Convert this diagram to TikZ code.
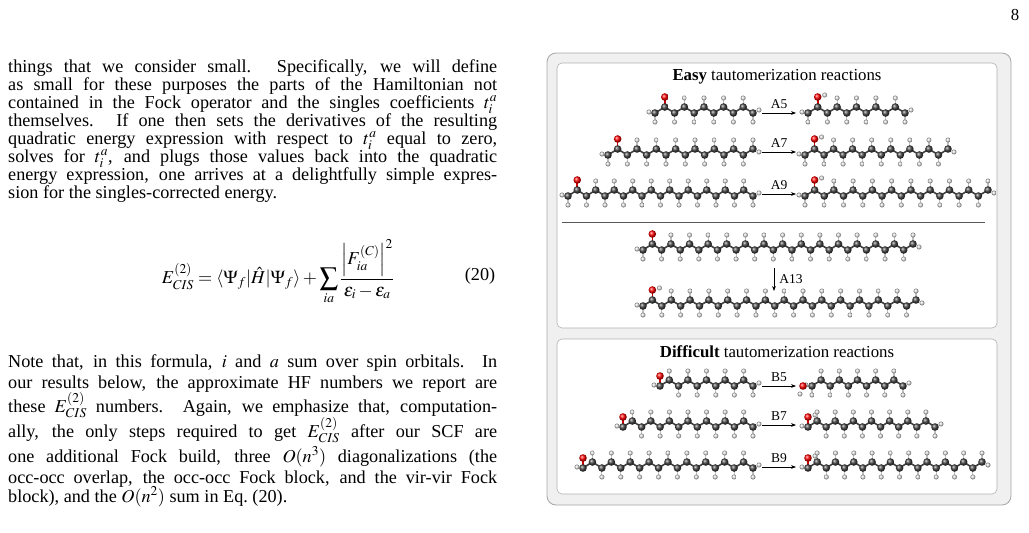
\documentclass[tikz,border=0pt]{standalone}
\usepackage{mathptmx}
\usepackage{fontspec}
\setmainfont{Liberation Serif}
\usetikzlibrary{arrows.meta}
\tikzset{
  bond/.style={line width=1.6pt, draw=gray!50!black},
  txt/.style={anchor=base west, inner sep=0pt, font=\fontsize{18.2}{20}\selectfont},
  ttl/.style={inner sep=0pt, font=\fontsize{16.8}{18}\selectfont},
  lab/.style={inner sep=0pt, font=\fontsize{13.5}{15}\selectfont},
  rxn/.style={-{Stealth[length=5pt]}, line width=0.7pt},
}
\newcommand\tl[2]{\node[txt] at (8,#1) {\hbox to 489pt{#2}};}
\newcommand\tlast[2]{\node[txt] at (8,#1) {#2};}
% #1 xs #2 xe #3 y #4 O index (-1 none) #5 enol flag
\newcommand\mol[5]{%
  \pgfmathtruncatemacro\nC{round((#2-#1)/9.4)}%
  \pgfmathsetmacro\dx{(#2-#1)/\nC}%
  \pgfmathtruncatemacro\nB{\nC-1}%
  \foreach \i in {0,...,\nB}{%
    \pgfmathsetmacro\ax{#1+\i*\dx}\pgfmathsetmacro\ay{#3+ifthenelse(mod(\i,2)==0,3,-3)}%
    \pgfmathsetmacro\bx{#1+(\i+1)*\dx}\pgfmathsetmacro\by{#3+ifthenelse(mod(\i,2)==0,-3,3)}%
    \draw[bond] (\ax,\ay) -- (\bx,\by);}%
  \foreach \i in {0,...,\nC}{%
    \pgfmathsetmacro\ax{#1+\i*\dx}%
    \pgfmathtruncatemacro\ev{mod(\i,2)==0}%
    \pgfmathsetmacro\ay{#3+ifthenelse(\ev==1,3,-3)}%
    \pgfmathsetmacro\hy{ifthenelse(\ev==1,\ay+9,\ay-9)}%
    \ifnum\i=#4\relax
      \draw[line width=1.6pt, red!80!black] (\ax,\ay) -- (\ax,\ay-10);
      \shade[ball color=red] (\ax,\ay-10) circle (3.8pt);
      \ifnum#5=1 \shade[ball color=gray!25] (\ax+7,\ay-12) circle (2.5pt);\fi
    \else
      \draw[line width=1.2pt, gray!50] (\ax,\ay) -- (\ax,\hy);
      \shade[ball color=gray!25] (\ax,\hy) circle (2.5pt);
    \fi
    \shade[ball color=gray!55!black] (\ax,\ay) circle (3.8pt);}%
  \shade[ball color=gray!25] (#1-6,#3+2) circle (2.5pt);
  \pgfmathsetmacro\ex{#2+6}%
  \shade[ball color=gray!25] (\ex,#3) circle (2.5pt);
}
\begin{document}
\begin{tikzpicture}[x=1pt,y=-1pt]
\useasboundingbox (0,0) rectangle (1029,533);
\node[ttl] (pg) at (1015,15) {8};
% left column
\tl{72}{things that we consider small. Specifically, we will define}
\tl{90}{as small for these purposes the parts of the Hamiltonian not}
\tl{108}{contained in the Fock operator and the singles coefficients $t_i^a$}
\tl{126}{themselves. If one then sets the derivatives of the resulting}
\tl{144}{quadratic energy expression with respect to $t_i^a$ equal to zero,}
\tl{162}{solves for $t_i^a$, and plugs those values back into the quadratic}
\tl{180}{energy expression, one arrives at a delightfully simple expres-}
\tlast{198}{sion for the singles-corrected energy.}
\node[inner sep=0pt, font=\fontsize{18.2}{20}\selectfont] (eq) at (278,272)
  {$\displaystyle E^{(2)}_{CIS}=\langle\Psi_f|\hat H|\Psi_f\rangle+\sum_{ia}\frac{\left|F^{(C)}_{ia}\right|^2}{\varepsilon_i-\varepsilon_a}$};
\node[inner sep=0pt, font=\fontsize{18.2}{20}\selectfont] (eqn) at (480,276) {(20)};
\tl{367}{Note that, in this formula, $i$ and $a$ sum over spin orbitals. In}
\tl{388}{our results below, the approximate HF numbers we report are}
\tl{412}{these $E^{(2)}_{CIS}$ numbers. Again, we emphasize that, computation-}
\tl{437}{ally, the only steps required to get $E^{(2)}_{CIS}$ after our SCF are}
\tl{462}{one additional Fock build, three $O(n^3)$ diagonalizations (the}
\tl{483}{occ-occ overlap, the occ-occ Fock block, and the vir-vir Fock}
\tlast{502}{block), and the $O(n^2)$ sum in Eq.~(20).}
% figure frame
\draw[gray!70, fill=gray!12, line width=0.8pt, rounded corners=9pt] (547,53) rectangle (1011,505);
\draw[gray!60, fill=white, line width=0.6pt, rounded corners=5pt] (557,63) rectangle (997,328);
\draw[gray!60, fill=white, line width=0.6pt, rounded corners=5pt] (557,339) rectangle (997,494);
\node[ttl] (t1) at (777,77) {\textbf{Easy} tautomerization reactions};
\node[ttl] (t2) at (777,352) {\textbf{Difficult} tautomerization reactions};
\draw[gray!70!black, line width=0.6pt] (562,222) -- (985,222);
% molecules easy
\mol{655}{753}{110}{1}{0} \mol{808}{905}{110}{1}{1}
\mol{608}{753}{152}{1}{0} \mol{805}{948}{152}{1}{1}
\mol{568}{753}{193}{1}{0} \mol{805}{988}{193}{1}{1}
\mol{643}{913}{247}{1}{0} \mol{643}{916}{303}{1}{1}
% difficult
\mol{660}{753}{383}{0}{0} \mol{812}{903}{383}{-1}{0}
\shade[ball color=red] (803,386) circle (3.8pt);
\shade[ball color=gray!25] (800,394) circle (2.5pt);
\mol{623}{753}{424}{0}{0} \mol{808}{935}{424}{0}{1}
\mol{583}{753}{465}{0}{0} \mol{808}{982}{465}{0}{1}
% arrows
\coordinate (a5s) at (762,113); \coordinate (a5e) at (796,113);
\draw[rxn] (a5s) -- node[lab, above=4pt] (l5) {A5} (a5e);
\coordinate (a7s) at (762,152); \coordinate (a7e) at (796,152);
\draw[rxn] (a7s) -- node[lab, above=4pt] (l7) {A7} (a7e);
\coordinate (a9s) at (762,194); \coordinate (a9e) at (796,194);
\draw[rxn] (a9s) -- node[lab, above=4pt] (l9) {A9} (a9e);
\coordinate (a13s) at (774,268); \coordinate (a13e) at (774,291);
\draw[rxn] (a13s) -- node[lab, right=5pt] (l13) {A13} (a13e);
\coordinate (b5s) at (762,386); \coordinate (b5e) at (796,386);
\draw[rxn] (b5s) -- node[lab, above=4pt] (lb5) {B5} (b5e);
\coordinate (b7s) at (762,425); \coordinate (b7e) at (796,425);
\draw[rxn] (b7s) -- node[lab, above=4pt] (lb7) {B7} (b7e);
\coordinate (b9s) at (762,467); \coordinate (b9e) at (796,467);
\draw[rxn] (b9s) -- node[lab, above=4pt] (lb9) {B9} (b9e);
\end{tikzpicture}
\end{document}
